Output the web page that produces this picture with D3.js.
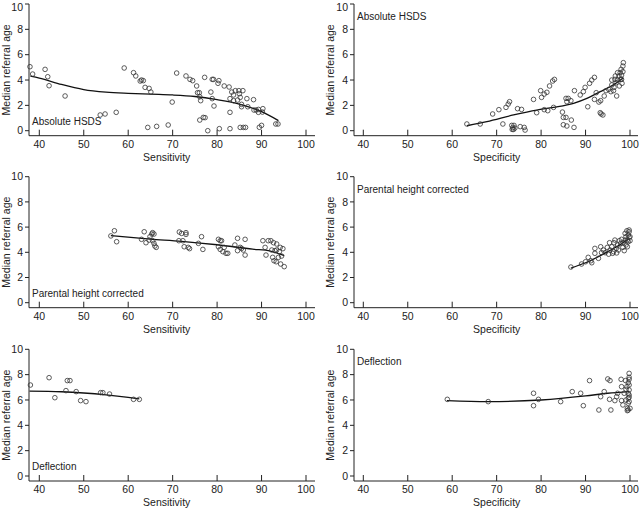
<!DOCTYPE html>
<html><head><meta charset="utf-8">
<script src="https://cdn.jsdelivr.net/npm/d3@7"></script>
<style>
html,body{margin:0;padding:0;background:#fff;}
svg{display:block;}
text{font-family:"Liberation Sans",Arial,sans-serif;fill:#222;}
</style></head>
<body>
<script>
// ---------- DATA ----------
const xTicks = [40,50,60,70,80,90,100];
const yTicks = [0,2,4,6,8,10];
const panelLabels = ["Absolute HSDS","Parental height corrected","Deflection"];
const xTitles = ["Sensitivity","Specificity"];
const yTitle = "Median referral age";

const sensAbsolute = [[37.9,5.05],[38.5,4.47],[41.3,4.84],[41.9,4.26],[42.2,3.55],[45.8,2.74],[53.7,1.24],[54.8,1.32],[57.3,1.45],[59.1,4.95],[61.2,4.58],[61.7,4.32],[62.7,3.92],[63.0,4.0],[63.4,3.95],[63.8,3.42],[64.7,3.34],[65.1,3.05],[64.4,0.26],[66.4,0.34],[69.0,0.45],[69.9,2.26],[70.9,4.55],[73.0,4.32],[73.9,4.05],[74.5,3.95],[75.4,3.53],[75.6,3.0],[76.0,3.0],[76.1,2.68],[76.3,2.37],[76.1,0.84],[76.9,1.05],[77.3,1.03],[77.2,4.21],[77.9,0.0],[78.6,3.05],[78.9,4.05],[79.2,4.05],[78.9,2.53],[79.3,1.95],[80.4,3.95],[80.2,3.74],[80.5,0.16],[81.6,3.53],[82.7,3.45],[82.9,1.45],[82.9,0.16],[82.9,2.53],[83.3,3.05],[83.7,2.82],[84.1,3.16],[83.7,2.37],[84.6,2.42],[84.9,3.16],[85.0,2.92],[85.2,2.63],[85.2,0.26],[85.5,2.08],[85.5,1.89],[85.8,3.16],[85.9,0.26],[86.4,0.26],[86.7,2.53],[86.9,1.89],[88.2,2.45],[88.3,1.63],[88.8,1.63],[89.3,1.68],[89.3,1.45],[89.5,0.27],[90.0,0.42],[90.3,1.74],[90.2,1.47],[93.2,0.53],[93.7,0.53]];
const sensAbsoluteFit = [[38,4.3],[40,4.15],[45,3.65],[50,3.25],[55,3.05],[60,2.95],[65,2.88],[70,2.82],[75,2.7],[80,2.45],[85,2.1],[90,1.5],[93.8,0.8]];

const specAbsolute = [[63.3,0.53],[66.3,0.53],[69.1,1.32],[70.5,1.66],[71.4,0.53],[72.1,1.84],[72.6,2.1],[72.9,2.29],[73.4,0.42],[73.6,0.24],[73.9,0.42],[73.5,0.1],[73.8,0.1],[74.1,0.21],[74.7,1.74],[75.3,0.32],[75.6,1.68],[76.2,0.26],[76.4,0.05],[78.3,2.47],[79.0,1.42],[79.9,3.16],[80.1,2.63],[80.7,2.89],[81.3,3.03],[80.7,1.66],[81.5,1.58],[81.9,3.53],[82.6,3.92],[83.0,4.05],[82.8,1.84],[84.8,1.47],[85.0,1.05],[85.0,0.47],[85.6,1.05],[85.8,0.37],[85.6,2.55],[86.1,2.55],[85.8,2.29],[86.7,2.37],[86.8,0.84],[87.4,0.26],[87.5,3.16],[88.8,2.82],[89.5,3.08],[89.9,3.42],[90.5,1.89],[90.9,3.74],[91.4,4.0],[92.0,4.21],[92.0,2.47],[92.4,3.0],[93.0,2.26],[93.3,1.42],[93.5,1.32],[93.9,1.24],[93.4,2.37],[94.2,2.74],[94.6,3.16],[95.2,3.26],[95.7,3.08],[95.9,4.0],[95.9,3.61],[96.3,3.16],[96.4,3.42],[96.6,4.05],[96.7,4.32],[96.9,3.79],[97.0,2.74],[97.2,4.58],[97.2,4.0],[97.5,4.32],[97.6,3.53],[97.8,4.58],[97.9,4.05],[98.0,4.84],[98.1,4.39],[98.2,3.74],[98.4,5.1],[98.4,4.66],[98.5,5.37],[98.1,4.05]];
const specAbsoluteFit = [[63.3,0.39],[67.8,0.71],[73.8,1.24],[79,1.63],[82.8,1.84],[87.3,2.16],[90.3,2.55],[93.3,3.08],[95.5,3.47],[97,3.79],[98.5,4.18]];

const sensParental = [[56.1,5.3],[56.9,5.71],[57.4,4.84],[63.0,5.03],[63.6,5.63],[64.0,4.76],[64.7,4.97],[64.9,5.24],[65.3,5.45],[65.5,5.56],[65.8,5.45],[65.5,4.92],[65.8,4.71],[66.0,4.5],[66.3,4.39],[71.5,5.61],[72.0,5.5],[73.0,5.56],[73.0,5.42],[71.4,4.92],[72.3,4.92],[72.6,4.44],[73.5,4.39],[73.8,4.29],[75.8,4.71],[76.5,5.24],[76.8,4.23],[80.3,5.03],[80.7,4.92],[81.0,4.92],[80.3,4.44],[80.7,4.23],[81.3,4.05],[81.6,4.39],[82.0,3.92],[82.4,3.92],[84.0,4.58],[84.6,5.11],[84.6,4.13],[85.2,4.39],[85.5,4.31],[85.9,4.18],[86.3,3.78],[86.3,5.03],[90.3,4.92],[90.8,4.39],[91.0,3.78],[91.5,4.92],[92.1,4.92],[92.3,4.18],[92.5,3.6],[92.7,4.76],[92.8,3.33],[93.0,4.13],[93.3,3.25],[93.4,4.66],[93.8,3.6],[94.0,4.05],[94.2,4.39],[94.3,3.07],[94.5,3.7],[94.8,4.29],[95.1,2.86],[93.4,4.18]];
const sensParentalFit = [[56.1,5.32],[65,5.05],[72,4.87],[80,4.6],[88,4.25],[92,4.1],[95.1,3.73]];

const specParental = [[86.7,2.83],[89.1,3.07],[90.0,3.25],[90.6,3.6],[91.2,3.33],[91.4,3.17],[92.1,4.31],[92.1,3.92],[92.9,3.52],[93.4,4.44],[93.6,3.97],[94.0,4.18],[94.4,3.97],[94.9,4.39],[95.4,4.76],[95.5,4.18],[95.9,4.44],[96.1,3.92],[96.4,4.76],[96.6,4.97],[96.9,4.31],[97.2,4.58],[97.4,4.18],[97.6,4.92],[97.9,4.71],[98.1,5.03],[98.4,4.39],[98.5,4.76],[98.7,4.13],[98.9,4.97],[98.9,5.5],[99.1,5.24],[99.1,4.58],[99.3,5.71],[99.4,4.97],[99.4,4.44],[99.6,5.37],[99.6,4.84],[99.8,5.77],[99.8,5.19],[99.8,5.63],[100,5.24],[100,4.92],[96.3,4.05],[97.0,3.95],[95.2,3.85]];
const specParentalFit = [[86.7,2.75],[90,3.17],[95,4.05],[98,4.66],[99.6,5.05]];

const sensDeflection = [[38.0,7.18],[42.2,7.76],[43.5,6.18],[46.0,6.74],[46.3,7.53],[46.9,7.53],[48.3,6.66],[49.3,5.95],[50.5,5.87],[53.8,6.58],[54.3,6.58],[55.8,6.47],[61.2,6.05],[62.5,6.05]];
const sensDeflectionFit = [[37.8,6.7],[45,6.65],[50,6.55],[55,6.4],[60,6.2],[62.5,6.08]];

const specDeflection = [[58.9,6.05],[68.1,5.87],[78.3,6.53],[78.3,5.55],[79.4,6.05],[84.4,5.87],[87.0,6.66],[88.9,6.53],[89.5,5.55],[90.9,7.53],[93.0,5.21],[93.4,6.26],[94.2,6.66],[95.0,7.66],[95.5,7.53],[95.4,6.05],[95.7,5.21],[96.6,5.95],[97.0,6.26],[97.2,6.53],[98.0,7.63],[98.1,7.05],[98.1,5.95],[98.4,5.61],[98.7,6.53],[99.0,7.53],[99.1,6.84],[99.1,6.0],[99.3,7.05],[99.4,5.34],[99.4,5.16],[99.6,7.37],[99.6,6.53],[99.6,6.13],[99.6,5.74],[99.8,8.1],[99.8,7.79],[99.8,7.63],[99.8,7.18],[99.8,6.79],[99.8,6.39],[99.8,6.21],[99.8,5.87],[100,5.34],[99.6,5.21]];
const specDeflectionFit = [[58.8,5.95],[68,5.87],[80,6.0],[90,6.32],[95,6.53],[99.8,6.66]];

// ---------- LAYOUT ----------
const W = 640, H = 509;
const cols = [
  {axisX:29, x40:39.3, x100:306, xEnd:315, titleX:166.7, yTitleX:9.5},
  {axisX:354, x40:363.3, x100:630, xEnd:638, titleX:496.7, yTitleX:334}
];
const rows = [
  {y10:4, y0:130.7},
  {y10:176.7, y0:302.7},
  {y10:349.3, y0:476}
];
const panels = [
  {col:0,row:0,pts:sensAbsolute,fit:sensAbsoluteFit,label:panelLabels[0],labelPos:"bottom",title:xTitles[0]},
  {col:1,row:0,pts:specAbsolute,fit:specAbsoluteFit,label:panelLabels[0],labelPos:"top",title:xTitles[1]},
  {col:0,row:1,pts:sensParental,fit:sensParentalFit,label:panelLabels[1],labelPos:"bottom",title:xTitles[0]},
  {col:1,row:1,pts:specParental,fit:specParentalFit,label:panelLabels[1],labelPos:"top",title:xTitles[1]},
  {col:0,row:2,pts:sensDeflection,fit:sensDeflectionFit,label:panelLabels[2],labelPos:"bottom",title:xTitles[0]},
  {col:1,row:2,pts:specDeflection,fit:specDeflectionFit,label:panelLabels[2],labelPos:"top",title:xTitles[1]}
];

const svg = d3.select("body").append("svg").attr("width",W).attr("height",H);
const ink = "#222";

panels.forEach(p=>{
  const c = cols[p.col], r = rows[p.row];
  const x = d3.scaleLinear().domain([40,100]).range([c.x40,c.x100]);
  const y = d3.scaleLinear().domain([0,10]).range([r.y0,r.y10]);
  const xAxisY = r.y0 + 5;
  const g = svg.append("g");

  g.append("line").attr("x1",c.axisX).attr("x2",c.axisX).attr("y1",r.y10).attr("y2",xAxisY)
    .attr("stroke",ink).attr("stroke-width",1);
  g.append("line").attr("x1",c.axisX).attr("x2",c.xEnd).attr("y1",xAxisY).attr("y2",xAxisY)
    .attr("stroke",ink).attr("stroke-width",1);

  xTicks.forEach(t=>{
    g.append("line").attr("x1",x(t)).attr("x2",x(t)).attr("y1",xAxisY).attr("y2",xAxisY-6)
      .attr("stroke",ink).attr("stroke-width",1);
    g.append("text").attr("x",x(t)).attr("y",xAxisY+12).attr("text-anchor","middle")
      .attr("font-size",10.5).text(t);
  });
  yTicks.forEach(t=>{
    g.append("line").attr("x1",c.axisX-4).attr("x2",c.axisX).attr("y1",y(t)).attr("y2",y(t))
      .attr("stroke",ink).attr("stroke-width",1);
    // baseline kept at least 10px from the top of the page so the label is not cut off
    const base = Math.max(y(t) + 3.7, 10.5);
    g.append("text").attr("x",c.axisX-6).attr("y",base).attr("text-anchor","end")
      .attr("font-size",10.5).text(t);
  });

  g.append("text").attr("x",c.titleX).attr("y",xAxisY+25).attr("text-anchor","middle")
    .attr("font-size",10.5).text(p.title);
  g.append("text").attr("transform",`translate(${c.yTitleX},${(r.y10+xAxisY)/2}) rotate(-90)`)
    .attr("text-anchor","middle").attr("font-size",10.5).text(yTitle);

  const ly = p.labelPos==="bottom" ? r.y0-6 : r.y10+16;
  g.append("text").attr("x",c.axisX+3).attr("y",ly).attr("font-size",10).text(p.label);

  g.append("path").datum(p.fit)
    .attr("d",d3.line().x(d=>x(d[0])).y(d=>y(d[1])).curve(d3.curveMonotoneX))
    .attr("fill","none").attr("stroke","#111").attr("stroke-width",1.3);

  g.selectAll("circle.pt").data(p.pts).enter().append("circle")
    .attr("cx",d=>x(d[0])).attr("cy",d=>y(d[1])).attr("r",2.3)
    .attr("fill","none").attr("stroke","#333").attr("stroke-width",0.8);
});
</script>
</body></html>
